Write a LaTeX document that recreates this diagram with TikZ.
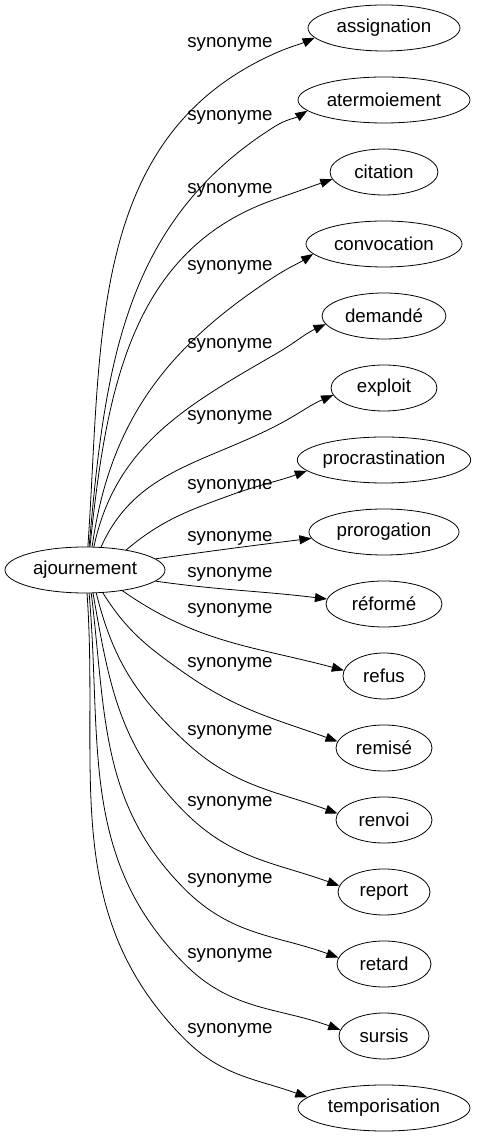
\documentclass[tikz,border=0pt]{standalone}
\usepackage{fontspec}
\setmainfont{Liberation Sans}
\usetikzlibrary{shapes.geometric, arrows.meta}

\begin{document}
\begin{tikzpicture}[x=1bp, y=1bp, line width=0.8pt, >={Triangle[length=12bp, width=9bp]},
    word/.style={draw, ellipse, inner sep=0pt, minimum height=46bp, font=\fontsize{18.7bp}{22bp}\selectfont},
    rel/.style={inner sep=2bp, font=\fontsize{18.7bp}{22bp}\selectfont}]
    \useasboundingbox (0, 0) rectangle (477, 1139);
    \node[word, minimum width=160bp] (ajourn) at (85, 569) {ajournement};

    \node[word, minimum width=152bp] (assign)  at (384, 1111) {assignation};
    \node[word, minimum width=172bp] (aterm)   at (384, 1039) {atermoiement};
    \node[word, minimum width=108bp] (citat)   at (384, 967)  {citation};
    \node[word, minimum width=156bp] (convoc)  at (384, 895)  {convocation};
    \node[word, minimum width=124bp] (deman)   at (384, 823)  {demandé};
    \node[word, minimum width=106bp] (exploit) at (384, 751)  {exploit};
    \node[word, minimum width=172bp] (procr)   at (384, 679)  {procrastination};
    \node[word, minimum width=150bp] (proro)   at (384, 607)  {prorogation};
    \node[word, minimum width=116bp] (reform)  at (384, 535)  {réformé};
    \node[word, minimum width=82bp]  (refus)   at (384, 463)  {refus};
    \node[word, minimum width=96bp]  (remis)   at (384, 391)  {remisé};
    \node[word, minimum width=96bp]  (renvoi)  at (384, 319)  {renvoi};
    \node[word, minimum width=92bp]  (report)  at (384, 247)  {report};
    \node[word, minimum width=94bp]  (retard)  at (384, 175)  {retard};
    \node[word, minimum width=90bp]  (sursis)  at (384, 103)  {sursis};
    \node[word, minimum width=172bp] (tempo)   at (384, 31)   {temporisation};

    \node[rel] (syn1)  at (230, 1095) {synonyme};
    \node[rel] (syn2)  at (230, 1022) {synonyme};
    \node[rel] (syn3)  at (230, 949)  {synonyme};
    \node[rel] (syn4)  at (230, 872)  {synonyme};
    \node[rel] (syn5)  at (230, 794)  {synonyme};
    \node[rel] (syn6)  at (230, 722)  {synonyme};
    \node[rel] (syn7)  at (230, 653)  {synonyme};
    \node[rel] (syn8)  at (230, 601)  {synonyme};
    \node[rel] (syn9)  at (230, 565)  {synonyme};
    \node[rel] (syn10) at (230, 529)  {synonyme};
    \node[rel] (syn11) at (230, 475)  {synonyme};
    \node[rel] (syn12) at (230, 407)  {synonyme};
    \node[rel] (syn13) at (230, 336)  {synonyme};
    \node[rel] (syn14) at (230, 259)  {synonyme};
    \node[rel] (syn15) at (230, 184)  {synonyme};
    \node[rel] (syn16) at (230, 109)  {synonyme};

    % upper edges pass under the end of their label
    \draw[->] (ajourn.83) to[out=86, in=204] (syn1.south east) to[out=24, in=204] (assign.188);
    \draw[->] (ajourn.80) to[out=85, in=212] (syn2.south east) to[out=32, in=212] (aterm.188);
    \draw[->] (ajourn.78) to[out=84, in=199] (syn3.south east) to[out=19, in=199] (citat.188);
    \draw[->] (ajourn.73) to[out=82, in=213] (syn4.south east) to[out=33, in=213] (convoc.188);
    \draw[->] (ajourn.69) to[out=78, in=210] (syn5.south east) to[out=30, in=205] (deman.188);
    \draw[->] (ajourn.55) to[out=66, in=207] (syn6.south east) to[out=27, in=203] (exploit.188);
    \draw[->] (ajourn.26) to[out=40, in=200] (syn7.south) to[out=20, in=200] (procr.188);
    % nearly straight ones
    \path[->]
    (ajourn.9)   edge[out=8, in=187]   (proro.185)
    (ajourn.-9)  edge[out=-8, in=173]  (reform.175)
    (ajourn.-29) edge[out=-35, in=165] (refus.172);
    % lower edges bend at the start of their label
    \draw[->] (ajourn.-52) to[out=-58, in=145] (syn11.south west) to[out=-35, in=160] (remis.172);
    \draw[->] (ajourn.-64) to[out=-76, in=137] (syn12.south west) to[out=-43, in=160] (renvoi.172);
    \draw[->] (ajourn.-71) to[out=-80, in=135] (syn13.south west) to[out=-45, in=160] (report.172);
    \draw[->] (ajourn.-75) to[out=-83, in=135] (syn14.south west) to[out=-45, in=160] (retard.172);
    \draw[->] (ajourn.-80) to[out=-85, in=135] (syn15.south west) to[out=-45, in=160] (sursis.172);
    \draw[->] (ajourn.-85) to[out=-86, in=135] (syn16.south west) to[out=-45, in=160] (tempo.172);
  \end{tikzpicture}
\end{document}
